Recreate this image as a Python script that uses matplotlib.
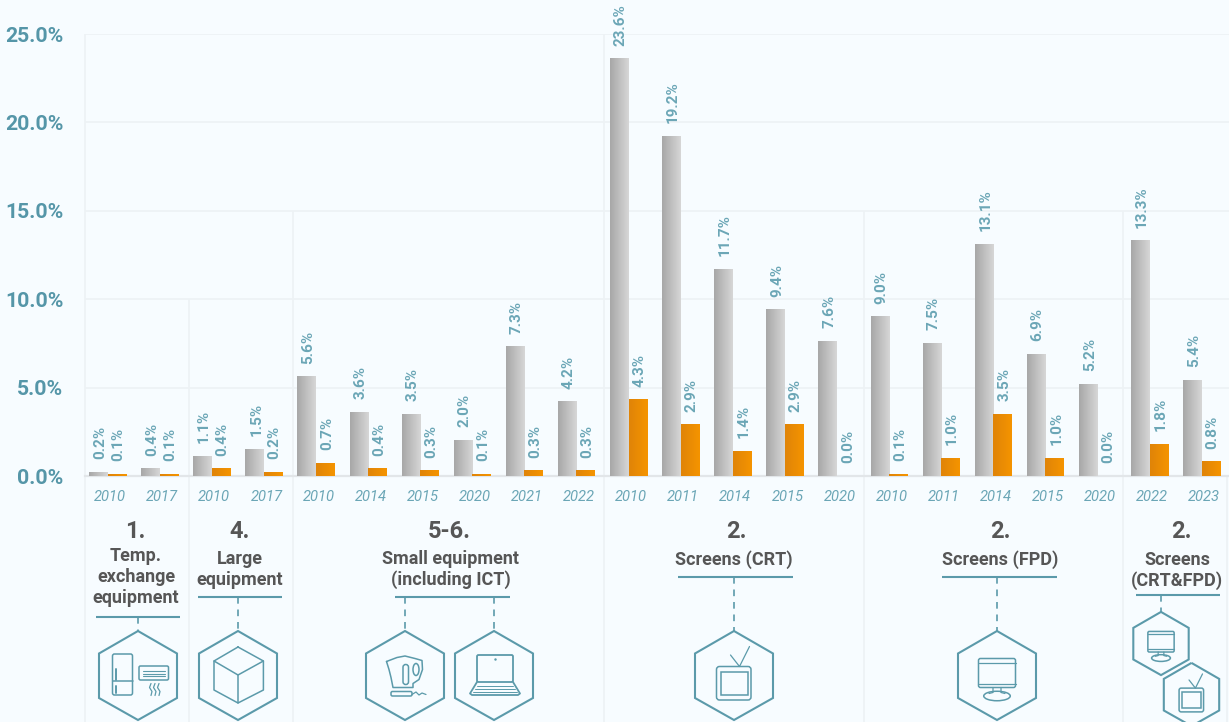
import numpy as np
import matplotlib
matplotlib.use("Agg")
import matplotlib.pyplot as plt
from matplotlib.patches import Ellipse, FancyBboxPatch, Polygon, Rectangle

plt.rcParams["font.family"] = ["Roboto", "DejaVu Sans"]

# Data
years = [2010, 2017, 2010, 2017, 2010, 2014, 2015, 2020, 2021, 2022,
         2010, 2011, 2014, 2015, 2020, 2010, 2011, 2014, 2015, 2020, 2022, 2023]
gray_vals = [0.2, 0.4, 1.1, 1.5, 5.6, 3.6, 3.5, 2.0, 7.3, 4.2,
             23.6, 19.2, 11.7, 9.4, 7.6, 9.0, 7.5, 13.1, 6.9, 5.2, 13.3, 5.4]
orange_vals = [0.1, 0.1, 0.4, 0.2, 0.7, 0.4, 0.3, 0.1, 0.3, 0.3,
               4.3, 2.9, 1.4, 2.9, 0.0, 0.1, 1.0, 3.5, 1.0, 0.0, 1.8, 0.8]
y_ticks = [0, 5, 10, 15, 20, 25]

# text, x px, baseline y px, size, colour kind
group_numbers = ["1.", "4.", "5-6.", "2.", "2.", "2."]
number_x = [135, 240, 449, 736, 1000, 1181]
group_lines = [
    ["Temp.", "exchange", "equipment"],
    ["Large", "equipment"],
    ["Small equipment", "(including ICT)"],
    ["Screens (CRT)"],
    ["Screens (FPD)"],
    ["Screens", "(CRT&FPD)"],
]
line_x = [136, 240, 451, 734, 1000, 1177]
line_first_base = [561, 564, 564, 565, 565, 565]

# divider x px, top value on the y axis
divider_cats = [0, 2, 4, 10, 15, 20]
divider_tops = [25, 10, 15, 25, 15, 15]

rules = [(96, 180, 617), (198, 282, 597), (395, 510, 597),
         (678, 793, 577), (942, 1057, 577), (1136, 1220, 595)]
dashes = [(138, 617, 631), (238, 597, 631), (405, 597, 631), (494, 597, 631),
          (734, 577, 631), (997, 577, 631), (1161, 595, 612)]

BG = "#f7fcff"
GRID = "#edf2f5"
TEAL = "#5596a8"
TEAL_LIGHT = "#6ba6b6"
ICON = "#5b9aaa"
DARK = "#565656"

W, H = 1229, 722
fig = plt.figure(figsize=(W / 100, H / 100), dpi=100, facecolor=BG)

# pixel overlay for the furniture under the chart
ov = fig.add_axes([0, 0, 1, 1], zorder=1)
ov.set_xlim(0, W)
ov.set_ylim(H, 0)
ov.axis("off")

ax = fig.add_axes([85 / W, 1 - 476 / H, (W - 85) / W, (476 - 34) / H], zorder=2)
ax.patch.set_alpha(0)

# category i sits at 107.5 + 52.1 * i px
UNIT = 52.1
x0 = -(107.5 - 85) / UNIT
ax.set_xlim(x0, x0 + (W - 85) / UNIT)
ax.set_ylim(0, 25)

xs = np.arange(len(years))
bar_w = 18.5 / UNIT
gray_bars = ax.bar(xs - bar_w / 2, gray_vals, bar_w, color="none", zorder=3)
orange_bars = ax.bar(xs + bar_w / 2, orange_vals, bar_w, color="none", zorder=3)

GRAY_GRAD = matplotlib.colors.LinearSegmentedColormap.from_list("g", ["#a8a8a8", "#d6d6d6"])
ORANGE_GRAD = matplotlib.colors.LinearSegmentedColormap.from_list("o", ["#e08408", "#f59400"])
grad = np.linspace(0, 1, 32).reshape(1, -1)
for bars, cmap in [(gray_bars, GRAY_GRAD), (orange_bars, ORANGE_GRAD)]:
    for b in bars:
        if b.get_height() <= 0:
            continue
        ax.imshow(grad, cmap=cmap, aspect="auto", zorder=3, interpolation="bilinear",
                  extent=[b.get_x(), b.get_x() + b.get_width(), 0, b.get_height()])
ax.set_xlim(x0, x0 + (W - 85) / UNIT)
ax.set_ylim(0, 25)

for bars, vals in [(gray_bars, gray_vals), (orange_bars, orange_vals)]:
    for b, v in zip(bars, vals):
        ax.annotate(f"{v:.1f}%", (b.get_x() + b.get_width() / 2, v),
                    xytext=(1.2, 9.5), textcoords="offset points", rotation=90,
                    ha="center", va="bottom", fontsize=11, fontweight="bold",
                    color=TEAL_LIGHT, annotation_clip=False, zorder=4)

ax.set_yticks(y_ticks)
ax.set_yticklabels([f"{v:.1f}%" for v in y_ticks], fontsize=15.3, fontweight="bold", color=TEAL)
ax.set_xticks(xs + 0.05)
ax.set_xticklabels(years, fontsize=10.6, style="italic", color=TEAL_LIGHT)
ax.tick_params(axis="y", length=0, pad=15.5)
ax.tick_params(axis="x", length=0, pad=10.2)
ax.grid(axis="y", color=GRID, lw=1.2, zorder=0)
ax.set_axisbelow(True)
for s in ["top", "right", "left"]:
    ax.spines[s].set_visible(False)
ax.spines["bottom"].set_color("#e2e6e9")
ax.spines["bottom"].set_linewidth(1.6)


def val_to_px(v):
    return 476 - v * (476 - 34) / 25


# group dividers, all the way down the figure
for c, top in zip(divider_cats, divider_tops):
    px = 85 + c * 51.92
    ov.plot([px, px], [val_to_px(top), H], color=GRID, lw=1.2, zorder=1, solid_capstyle="butt")
ov.plot([1227, 1227], [476, H], color=GRID, lw=1.2, zorder=1)

# group headings
for txt, x in zip(group_numbers, number_x):
    ov.text(x, 538, txt, ha="center", va="baseline", fontsize=17, fontweight="bold", color=DARK)
for lines, x, base in zip(group_lines, line_x, line_first_base):
    for k, txt in enumerate(lines):
        ov.text(x, base + k * 21, txt, ha="center", va="baseline", fontsize=13,
                fontweight="bold", color=DARK)

for x1, x2, y in rules:
    ov.plot([x1, x2], [y, y], color=ICON, lw=1.5, solid_capstyle="butt")
for x, y1, y2 in dashes:
    ov.plot([x, x], [y1, y2], color=ICON, lw=1.2, dashes=(4, 3.5))


# icons, drawn in pixels around a hexagon centre
def hexagon(cx, cy, s=1.0):
    pts = [(0, -44.5), (39, -22), (39, 22.5), (0, 44.5), (-39, 22.5), (-39, -22)]
    ov.add_patch(Polygon([(cx + s * a, cy + s * b) for a, b in pts], closed=True,
                         fill=False, ec=ICON, lw=1.5, joinstyle="miter", clip_on=True))


def pl(cx, cy, s, pts, lw=1.1, closed=False, color=ICON):
    xy = [(cx + s * a, cy + s * b) for a, b in pts]
    if closed:
        xy.append(xy[0])
    ov.plot([p[0] for p in xy], [p[1] for p in xy], color=color, lw=lw, solid_joinstyle="round",
            solid_capstyle="round")


def rrect(cx, cy, s, x1, y1, x2, y2, r=2, lw=1.1):
    ov.add_patch(FancyBboxPatch((cx + s * x1, cy + s * y1), s * (x2 - x1), s * (y2 - y1),
                                boxstyle=f"round,pad=0,rounding_size={r * s}", fill=False,
                                ec=ICON, lw=lw))


def fridge_ac(cx, cy):
    rrect(cx, cy, 1, -25.5, -21.5, -5.5, 19.5)
    pl(cx, cy, 1, [(-25.5, 5), (-5.5, 5)])
    pl(cx, cy, 1, [(-22, -7), (-22, 4)], lw=1.4)
    pl(cx, cy, 1, [(-22, 10), (-22, 17)], lw=1.4)
    rrect(cx, cy, 1, 1, -9.5, 30.5, 4.5, r=1.5)
    for yy in [-5, -2, 0.5]:
        pl(cx, cy, 1, [(5, yy), (27, yy)], lw=0.8)
    for xx in [13, 17, 21]:
        pl(cx, cy, 1, [(xx, 8), (xx - 1.5, 12), (xx + 1, 16), (xx, 20)], lw=0.9)


def cube(cx, cy):
    pl(cx, cy, 1, [(0, -28.5), (25.4, -14.5), (25.4, 14.5), (0, 27.5), (-24, 14.5), (-24, -14.5)],
       closed=True)
    pl(cx, cy, 1, [(-24, -14.5), (0, -0.5), (25.4, -14.5)])
    pl(cx, cy, 1, [(0, -0.5), (0, 27.5)])


def kettle(cx, cy):
    pl(cx, cy, 1, [(-18.5, -14), (-8, -18), (0, -19.5), (10, -17), (17, -15), (17.5, -6), (14, 4),
                   (8, 8), (8, 12), (-12, 12), (-14, 2), (-16, -6)], closed=True)
    ov.add_patch(FancyBboxPatch((cx - 2, cy - 11), 5.5, 20, boxstyle="round,pad=0,rounding_size=2.7",
                                fill=False, ec=ICON, lw=1.1))
    ov.add_patch(Ellipse((cx + 11, cy - 6), 6, 12, fill=False, ec=ICON, lw=1.1))
    rrect(cx, cy, 1, -14, 16, 7, 20.5, r=1.5)
    pl(cx, cy, 1, [(7, 19), (11, 16.5), (14, 19.5), (17, 17.5), (21, 19)], lw=0.9)


def laptop(cx, cy):
    rrect(cx, cy, 1, -17, -20.5, 19, 6.5, r=1.5, lw=1.3)
    pl(cx, cy, 1, [(-17, 6.5), (-24, 18), (-22, 19.5), (24, 19.5), (26, 18), (19, 6.5)], lw=1.3)
    for yy, d in [(10, 0), (13, 2), (16, 4)]:
        pl(cx, cy, 1, [(-17 - d, yy), (19 + d, yy)], lw=0.7)
    ov.plot([cx + 1], [cy - 17], ".", ms=1.5, color=ICON)


def tv(cx, cy, s=1.0):
    rrect(cx, cy, s, -17.5, -9, 17, 24.5, r=3)
    ov.add_patch(Rectangle((cx - 13.5 * s, cy - 4 * s), 27 * s, 23.5 * s, fill=False, ec=ICON, lw=1.1))
    pl(cx, cy, s, [(-3.5, -20.5), (5.5, -9), (15.5, -29)], lw=0.9)


def monitor(cx, cy, s=1.0):
    rrect(cx, cy, s, -18.5, -17, 18.5, 12, r=2)
    pl(cx, cy, s, [(-18.5, -13), (18.5, -13)], lw=0.9)
    pl(cx, cy, s, [(-18.5, 8), (18.5, 8)], lw=0.9)
    pl(cx, cy, s, [(-4, 12), (-4, 17), (-8, 18)], lw=0.9)
    pl(cx, cy, s, [(4, 12), (4, 17), (8, 18)], lw=0.9)
    ov.add_patch(Ellipse((cx, cy + 20.5 * s), 26.5 * s, 9.5 * s, fill=False, ec=ICON, lw=1.1))


CY = 675.5
hexagon(138, CY)
fridge_ac(138, CY)
hexagon(238, CY)
cube(238, CY)
hexagon(405, CY)
kettle(405, CY)
hexagon(494, CY)
laptop(494, CY)
hexagon(734, CY)
tv(734, CY)
hexagon(997, CY)
monitor(997, CY)
hexagon(1161, 643.5, 0.71)
monitor(1161, 643.5, 0.71)
hexagon(1191.5, 694.5, 0.71)
tv(1191.5, 694.5, 0.71)

fig.savefig("out.png", dpi=100, facecolor=BG)
